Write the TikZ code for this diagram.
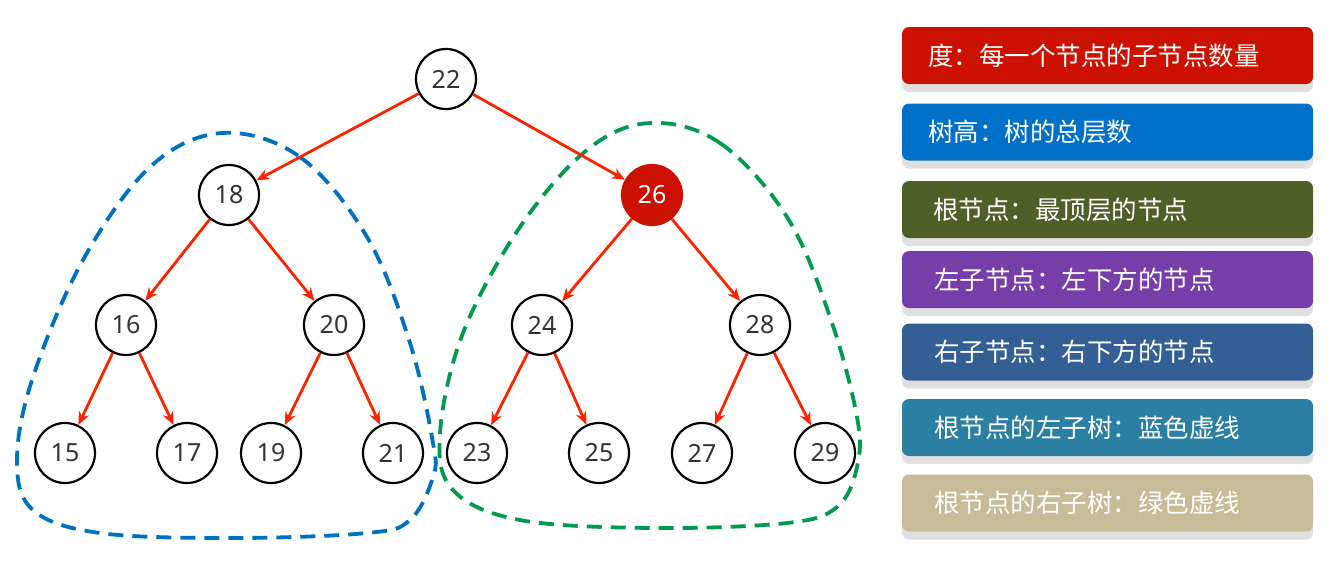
\documentclass[tikz,border=0pt]{standalone}
\usepackage{fontspec}
\setmainfont{Noto Sans}
\newfontfamily\cjk{Noto Sans CJK SC}
\usepackage{tikz}
\usetikzlibrary{arrows.meta,shadows}

\definecolor{edgered}{HTML}{FF2200}
\definecolor{rootred}{HTML}{CC1100}
\definecolor{leftblue}{HTML}{0070C0}
\definecolor{rightgreen}{HTML}{009B4E}
\definecolor{boxa}{HTML}{CD1100}
\definecolor{boxb}{HTML}{0070C8}
\definecolor{boxc}{HTML}{4F5F28}
\definecolor{boxd}{HTML}{773DA8}
\definecolor{boxe}{HTML}{335F95}
\definecolor{boxf}{HTML}{2A7FA2}
\definecolor{boxg}{HTML}{C6BC98}

\begin{document}
\begin{tikzpicture}[x=1pt,y=-1pt]
\tikzstyle{key}=[circle,draw=black,line width=2.2pt,minimum size=60pt,inner sep=0,font=\fontsize{25}{29}\selectfont,text=black!80]
\tikzstyle{edge}=[edgered,line width=2.8pt,-{Stealth[length=13pt,width=11pt]}]
\tikzstyle{hull}=[line width=3.8pt,dash pattern=on 15pt off 9pt]
\tikzstyle{legend}=[rectangle,rounded corners=7pt,minimum width=411pt,minimum height=57pt,inner xsep=26pt,text width=359pt,align=left,text=white,font=\cjk\fontsize{25.5}{29}\selectfont,drop shadow={shadow xshift=0pt,shadow yshift=-8pt,fill=black!12,opacity=1}]
\useasboundingbox (0,0) rectangle (1340,562);

% subtree outlines
\draw[hull,leftblue] plot[smooth cycle,tension=0.6] coordinates {
 (222,133) (300,157) (367,237) (410,343) (433,443) (433,477) (410,520) (367,533)
 (233,538) (100,533) (33,510) (17,460) (33,377) (83,260) (150,167)};
\draw[hull,rightgreen] plot[smooth cycle,tension=0.6] coordinates {
 (650,123) (720,143) (787,217) (830,317) (857,417) (857,467) (837,507) (787,523)
 (653,528) (520,520) (453,490) (440,433) (463,333) (520,227) (587,150)};

% tree
\node[key,fill=white] (n22) at (446,79) {22};
\node[key,fill=white] (n18) at (229,195) {18};
\node[key,fill=rootred,draw=rootred,text=white] (n26) at (652,195) {26};
\node[key,fill=white] (n16) at (126,325) {16};
\node[key,fill=white] (n20) at (334,325) {20};
\node[key,fill=white] (n24) at (542,325) {24};
\node[key,fill=white] (n28) at (760,325) {28};
\node[key,fill=white] (n15) at (65,453) {15};
\node[key,fill=white] (n17) at (187,453) {17};
\node[key,fill=white] (n19) at (271,453) {19};
\node[key,fill=white] (n21) at (393,453) {21};
\node[key,fill=white] (n23) at (477,453) {23};
\node[key,fill=white] (n25) at (599,453) {25};
\node[key,fill=white] (n27) at (702,453) {27};
\node[key,fill=white] (n29) at (825,453) {29};
\draw[edge] (n22) -- (n18);
\draw[edge] (n22) -- (n26);
\draw[edge] (n18) -- (n16);
\draw[edge] (n18) -- (n20);
\draw[edge] (n26) -- (n24);
\draw[edge] (n26) -- (n28);
\draw[edge] (n16) -- (n15);
\draw[edge] (n16) -- (n17);
\draw[edge] (n20) -- (n19);
\draw[edge] (n20) -- (n21);
\draw[edge] (n24) -- (n23);
\draw[edge] (n24) -- (n25);
\draw[edge] (n28) -- (n27);
\draw[edge] (n28) -- (n29);

% legend
\node[legend,fill=boxa] (degree) at (1107.5,55.5) {度：每一个节点的子节点数量};
\node[legend,fill=boxb] (height) at (1107.5,132) {树高：树的总层数};
\node[legend,fill=boxc] (root) at (1107.5,209.5) {\hspace*{5pt}根节点：最顶层的节点};
\node[legend,fill=boxd] (lchild) at (1107.5,279.5) {\hspace*{6pt}左子节点：左下方的节点};
\node[legend,fill=boxe] (rchild) at (1107.5,352) {\hspace*{6pt}右子节点：右下方的节点};
\node[legend,fill=boxf] (ltree) at (1107.5,427.5) {\hspace*{6pt}根节点的左子树：蓝色虚线};
\node[legend,fill=boxg] (rtree) at (1107.5,503) {\hspace*{6pt}根节点的右子树：绿色虚线};
\end{tikzpicture}
\end{document}
